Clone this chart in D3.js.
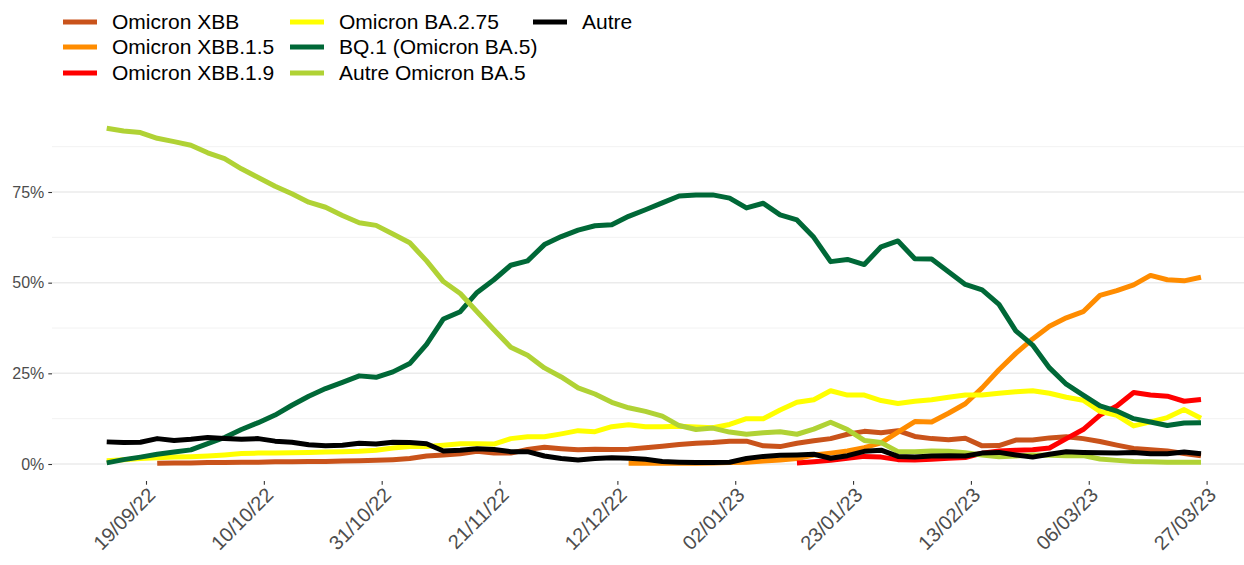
<!DOCTYPE html>
<html><head><meta charset="utf-8">
<script src="https://cdn.jsdelivr.net/npm/d3@7"></script>
<style>body{margin:0;background:#fff} svg{display:block;font-family:"Liberation Sans",Arial,Helvetica,sans-serif}</style>
</head><body><svg id="chart" width="1244" height="565"></svg>
<script>
// ---------- data ----------
const dates = ["2022-09-12","2022-09-15","2022-09-18","2022-09-21","2022-09-24","2022-09-27","2022-09-30","2022-10-03","2022-10-06","2022-10-09",
"2022-10-12","2022-10-15","2022-10-18","2022-10-21","2022-10-24","2022-10-27","2022-10-30","2022-11-02","2022-11-05","2022-11-08",
"2022-11-11","2022-11-14","2022-11-17","2022-11-20","2022-11-23","2022-11-26","2022-11-29","2022-12-02","2022-12-05","2022-12-08",
"2022-12-11","2022-12-14","2022-12-17","2022-12-20","2022-12-23","2022-12-26","2022-12-29","2023-01-01","2023-01-04","2023-01-07",
"2023-01-10","2023-01-13","2023-01-16","2023-01-19","2023-01-22","2023-01-25","2023-01-28","2023-01-31","2023-02-03","2023-02-06",
"2023-02-09","2023-02-12","2023-02-15","2023-02-18","2023-02-21","2023-02-24","2023-02-27","2023-03-02","2023-03-05","2023-03-08",
"2023-03-11","2023-03-14","2023-03-17","2023-03-20","2023-03-23","2023-03-26"];

const seriesNames = ["Omicron XBB","Omicron XBB.1.5","Omicron XBB.1.9","Omicron BA.2.75","BQ.1 (Omicron BA.5)","Autre Omicron BA.5","Autre"];
const seriesColors = ["#C9531B","#FF8C00","#FF0000","#FFFF00","#006837","#B0D235","#000000"];

// values in percent
const xbb = [null,null,null,0.2,0.3,0.3,0.4,0.4,0.5,0.5,
0.6,0.6,0.7,0.7,0.8,0.9,1.0,1.2,1.5,2.2,
2.5,2.8,3.5,3.0,3.0,4.0,4.6,4.2,3.9,4.1,
4.0,4.1,4.5,4.9,5.4,5.7,5.9,6.3,6.3,5.0,
4.8,5.7,6.4,7.0,8.2,9.0,8.6,9.2,7.6,7.0,
6.7,7.1,5.0,5.1,6.6,6.6,7.2,7.5,7.0,6.2,
5.2,4.3,3.9,3.6,2.9,2.3];
const xbb15 = [null,null,null,null,null,null,null,null,null,null,
null,null,null,null,null,null,null,null,null,null,
null,null,null,null,null,null,null,null,null,null,
null,0.2,0.2,0.2,0.2,0.2,0.3,0.4,0.5,0.8,
1.1,1.5,2.5,3.0,3.6,4.5,5.8,8.8,11.7,11.6,
14.0,16.6,21.0,26.0,30.5,34.5,38.0,40.3,42.0,46.5,
47.8,49.4,52.0,50.8,50.5,51.5];
const xbb19 = [null,null,null,null,null,null,null,null,null,null,
null,null,null,null,null,null,null,null,null,null,
null,null,null,null,null,null,null,null,null,null,
null,null,null,null,null,null,null,null,null,null,
null,0.3,0.6,1.0,1.6,2.1,1.9,1.2,1.1,1.3,
1.6,1.8,3.0,3.6,3.8,3.9,4.4,7.0,9.5,13.5,
16.0,19.7,19.0,18.7,17.3,17.8];
const ba275 = [0.9,1.2,1.5,1.7,1.9,2.0,2.2,2.5,2.9,3.0,
3.0,3.1,3.2,3.3,3.4,3.5,3.8,4.4,4.8,4.8,
5.2,5.6,5.6,5.5,7.0,7.5,7.5,8.3,9.2,8.9,
10.3,10.8,10.3,10.3,10.4,10.2,10.0,10.9,12.5,12.5,
14.9,17.0,17.7,20.2,19.0,19.0,17.5,16.7,17.3,17.7,
18.4,19.0,19.0,19.5,19.9,20.2,19.5,18.4,17.6,14.5,
13.4,10.5,11.6,12.8,15.0,12.6];
const bq1 = [0.3,1.2,1.9,2.7,3.3,3.9,5.6,7.3,9.5,11.4,
13.5,16.2,18.7,20.8,22.5,24.3,23.9,25.4,27.7,33.0,
40.0,42.0,47.3,50.8,54.8,56.0,60.5,62.7,64.5,65.7,
66.0,68.3,70.1,72.0,73.9,74.2,74.2,73.3,70.6,71.9,
68.7,67.3,62.5,55.8,56.4,55.0,59.9,61.5,56.6,56.5,
53.0,49.5,48.0,44.0,36.7,32.8,26.5,22.0,19.0,16.0,
14.6,12.5,11.6,10.6,11.3,11.4];
const autreBA5 = [92.6,91.8,91.4,89.8,88.9,87.9,85.8,84.2,81.4,79.0,
76.6,74.5,72.2,70.8,68.5,66.5,65.8,63.4,61.0,56.0,
50.3,47.0,42.0,37.0,32.2,30.0,26.5,24.0,21.0,19.3,
17.0,15.5,14.5,13.2,10.6,9.5,9.9,8.8,8.2,8.6,
8.9,8.2,9.6,11.5,9.5,6.5,5.9,3.4,3.4,3.6,
3.5,3.1,2.5,2.0,2.2,2.5,2.4,2.3,2.3,1.4,
1.0,0.7,0.6,0.5,0.5,0.5];
const autre = [6.1,5.9,6.0,7.0,6.5,6.8,7.3,7.0,6.8,7.0,
6.3,6.0,5.3,5.0,5.2,5.7,5.5,6.0,5.9,5.6,
3.6,3.8,4.2,4.0,3.4,3.4,2.2,1.5,1.1,1.5,
1.7,1.6,1.3,0.7,0.5,0.4,0.4,0.5,1.5,2.1,
2.4,2.5,2.7,1.6,2.3,3.5,3.8,2.1,1.9,2.2,
2.3,2.2,3.0,3.2,2.5,1.9,2.7,3.4,3.2,3.1,
3.0,3.2,2.8,2.8,3.3,2.8];

const seriesValues = [xbb, xbb15, xbb19, ba275, bq1, autreBA5, autre];

const xTickLabels = ["19/09/22","10/10/22","31/10/22","21/11/22","12/12/22","02/01/23","23/01/23","13/02/23","06/03/23","27/03/23"];
const yTickValues = [0, 25, 50, 75];
const yMinorValues = [12.5, 37.5, 62.5, 87.5];

// ---------- chart ----------
const W = 1244, H = 565;
const svg = d3.select("#chart");
const parseDate = d3.utcParse("%Y-%m-%d");
const parseTick = d3.utcParse("%d/%m/%y");
const dateObjs = dates.map(parseDate);

const x = d3.scaleUtc()
  .domain([parseTick("19/09/22"), parseTick("27/03/23")])
  .range([146, 1206.6]);
const y = d3.scaleLinear().domain([0, 75]).range([464, 192]);

const panelLeft = 52, panelBottom = 481;

// grid
const grid = svg.append("g");
grid.selectAll("line.minor").data(yMinorValues).join("line")
  .attr("x1", panelLeft).attr("x2", W)
  .attr("y1", d => y(d)).attr("y2", d => y(d))
  .attr("stroke", "#F0F0F0").attr("stroke-width", 0.9);
grid.selectAll("line.major").data(yTickValues).join("line")
  .attr("x1", panelLeft).attr("x2", W)
  .attr("y1", d => y(d)).attr("y2", d => y(d))
  .attr("stroke", "#EBEBEB").attr("stroke-width", 1.5);

// y axis
const yAxis = d3.axisLeft(y).tickValues(yTickValues).tickSize(3.7).tickPadding(4)
  .tickFormat(d => d + "%");
const gy = svg.append("g").attr("transform", `translate(${panelLeft},0)`).call(yAxis);
gy.select(".domain").remove();
gy.selectAll(".tick line").attr("stroke", "#333333").attr("stroke-width", 1.1);
gy.selectAll(".tick text").attr("fill", "#4D4D4D").style("font-size", "16px")
  .style("font-family", '"Liberation Sans", Arial, sans-serif');

// x axis
const xAxis = d3.axisBottom(x).tickValues(xTickLabels.map(parseTick)).tickSize(3.7)
  .tickFormat((d, i) => xTickLabels[i]);
const gx = svg.append("g").attr("transform", `translate(0,${panelBottom})`).call(xAxis);
gx.select(".domain").remove();
gx.selectAll(".tick line").attr("stroke", "#333333").attr("stroke-width", 1.1);
gx.selectAll(".tick text")
  .attr("fill", "#4D4D4D").style("font-size", "20px")
  .style("font-family", '"Liberation Sans", Arial, sans-serif')
  .attr("text-anchor", "end")
  .attr("y", 0).attr("dy", "0.72em")
  .attr("transform", "translate(0,5) rotate(-45)");

// lines
const line = d3.line()
  .defined(d => d.v != null)
  .x(d => x(d.date))
  .y(d => y(d.v));
const linesG = svg.append("g");
seriesNames.forEach((name, i) => {
  const pts = dateObjs.map((dt, k) => ({date: dt, v: seriesValues[i][k]}));
  linesG.append("path")
    .datum(pts)
    .attr("fill", "none")
    .attr("stroke", seriesColors[i])
    .attr("stroke-width", 5)
    .attr("stroke-linejoin", "round")
    .attr("stroke-linecap", "butt")
    .attr("d", line);
});

// legend
const legendCols = [[0,1,2],[3,4,5],[6]];
const colX = [63, 290, 533];
const rowY = [22, 47, 73];
const lg = svg.append("g");
legendCols.forEach((col, ci) => {
  col.forEach((si, ri) => {
    const g = lg.append("g").attr("transform", `translate(${colX[ci]},${rowY[ri]})`);
    g.append("line").attr("x1", 0).attr("x2", 34).attr("y1", 0).attr("y2", 0)
      .attr("stroke", seriesColors[si]).attr("stroke-width", 5);
    g.append("text").attr("x", 49).attr("y", 0).attr("dy", "0.35em")
      .attr("fill", "#000").style("font-size", "21px")
      .text(seriesNames[si]);
  });
});
</script></body></html>
